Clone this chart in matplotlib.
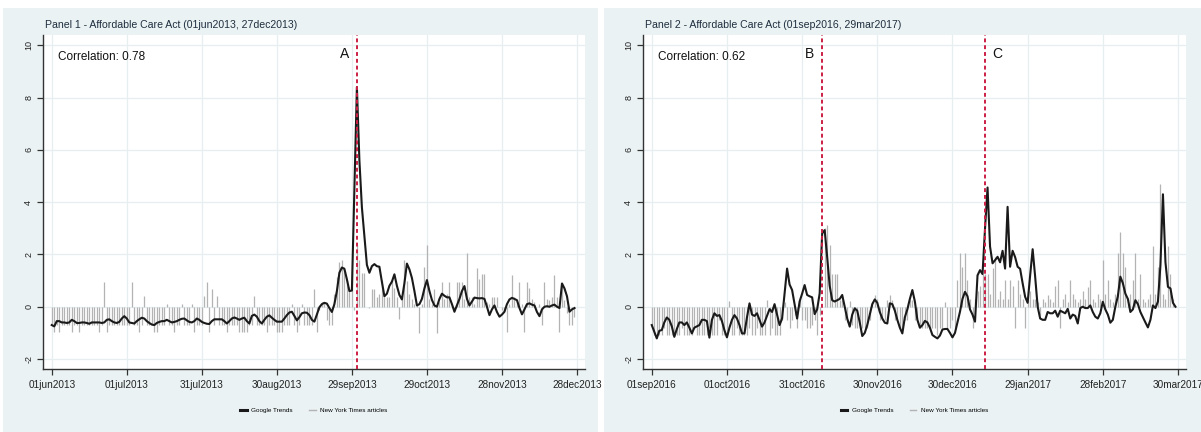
import numpy as np
import pandas as pd
import matplotlib
matplotlib.use("Agg")
import matplotlib.pyplot as plt
from matplotlib.patches import Rectangle
from matplotlib.lines import Line2D

plt.rcParams['font.family'] = ['Liberation Sans', 'DejaVu Sans']

# Panel 1: daily standardized series, 01jun2013 - 27dec2013
start1 = "2013-06-01"
google1 = [
    -0.70, -0.75, -0.55, -0.55, -0.60, -0.60, -0.62, -0.60, -0.50, -0.55,
    -0.62, -0.62, -0.60, -0.60, -0.62, -0.65, -0.60, -0.60, -0.60, -0.60,
    -0.62, -0.60, -0.50, -0.48, -0.55, -0.60, -0.62, -0.58, -0.45, -0.36,
    -0.45, -0.60, -0.62, -0.64, -0.55, -0.48, -0.42, -0.45, -0.55, -0.62,
    -0.68, -0.70, -0.62, -0.58, -0.55, -0.55, -0.50, -0.55, -0.60, -0.58,
    -0.55, -0.50, -0.46, -0.45, -0.52, -0.58, -0.60, -0.55, -0.45, -0.50,
    -0.58, -0.62, -0.65, -0.66, -0.55, -0.48, -0.48, -0.48, -0.48, -0.55,
    -0.64, -0.55, -0.45, -0.41, -0.45, -0.50, -0.45, -0.42, -0.55, -0.64,
    -0.35, -0.30, -0.38, -0.55, -0.64, -0.50, -0.38, -0.33, -0.42, -0.50,
    -0.57, -0.57, -0.57, -0.45, -0.32, -0.22, -0.19, -0.35, -0.52, -0.40,
    -0.25, -0.22, -0.23, -0.32, -0.50, -0.57, -0.30, -0.02, 0.10, 0.15,
    0.12, -0.05, -0.20, 0.10, 0.60, 1.30, 1.50, 1.45, 1.05, 0.60,
    0.62, 4.50, 8.40, 5.60, 3.80, 2.70, 1.60, 1.30, 1.55, 1.63,
    1.55, 1.53, 0.95, 0.40, 0.50, 0.80, 0.96, 1.24, 0.80, 0.45,
    0.28, 0.90, 1.65, 1.43, 1.10, 0.60, 0.05, 0.10, 0.30, 0.70,
    1.02, 0.60, 0.26, 0.05, 0.00, 0.30, 0.50, 0.42, 0.36, 0.36,
    0.10, -0.19, 0.05, 0.30, 0.60, 0.79, 0.30, 0.05, 0.20, 0.35,
    0.33, 0.32, 0.33, 0.30, 0.00, -0.32, -0.10, 0.05, -0.20, -0.38,
    -0.30, -0.19, 0.10, 0.28, 0.34, 0.30, 0.25, -0.05, -0.29, -0.10,
    0.10, 0.13, 0.08, 0.05, -0.20, -0.36, -0.10, 0.00, 0.02, 0.00,
    0.05, 0.08, 0.00, -0.05, 0.89, 0.70, 0.40, -0.19, -0.10, -0.05,
]
nyt1 = [
    -0.70, -0.96, -0.70, -0.96, -0.70, -0.70, -0.70, -0.70, -0.96, -0.70,
    -0.70, -0.96, -0.70, -0.70, -0.70, -0.70, -0.70, -0.70, -0.70, -0.96,
    -0.70, 0.96, -0.96, -0.70, -0.70, -0.70, -0.70, -0.70, -0.70, -0.70,
    -0.70, -0.70, 0.96, -0.70, -0.70, -0.96, -0.70, 0.41, -0.70, -0.70,
    -0.70, -0.96, -0.96, -0.70, -0.70, -0.70, 0.10, -0.70, -0.70, -0.96,
    -0.70, -0.70, 0.10, -0.70, -0.70, -0.70, 0.10, -0.96, -0.70, -0.70,
    -0.70, 0.40, 0.96, -0.96, 0.66, -0.70, 0.40, -0.70, -0.70, -0.70,
    -0.96, -0.70, -0.70, -0.70, -0.70, -0.96, -0.96, -0.96, -0.96, -0.70,
    -0.70, 0.40, -0.70, -0.70, -0.70, -0.70, -0.96, -0.70, -0.70, -0.70,
    -0.96, -0.96, -0.96, -0.70, -0.70, -0.70, 0.10, -0.70, -0.96, -0.70,
    0.10, -0.70, -0.70, -0.70, -0.70, 0.66, -0.96, -0.13, 0.19, 0.19,
    -0.50, -0.70, -0.70, 0.50, 1.15, 1.72, 1.79, 1.53, 1.02, 0.76,
    1.40, -0.13, 2.36, 1.79, 1.28, 1.28, 0.00, -0.05, 0.66, 0.66,
    0.38, 0.50, 1.02, 0.38, 0.38, 0.38, 1.02, 0.70, 0.38, -0.45,
    0.38, 1.78, 1.00, 0.50, 0.30, 0.10, 0.05, -1.00, 0.10, 1.53,
    2.36, 0.30, 0.10, 0.66, -1.00, 0.20, 0.96, 0.30, 0.50, 0.96,
    0.10, -0.20, 0.96, 0.96, 0.96, 0.30, 2.06, 0.38, 0.38, 0.10,
    1.50, 1.08, 1.24, 1.24, 0.20, 0.10, 0.38, 0.38, 0.38, 0.00,
    -0.13, -0.20, -0.96, 0.10, 1.21, 0.38, 0.20, 0.96, 0.10, -0.96,
    0.96, 0.70, 0.30, 0.20, 0.00, 0.10, -0.70, 0.96, 0.30, 0.25,
    0.38, 1.21, 0.38, -0.96, 0.90, 0.25, -0.25, -0.70, -0.70, -0.40,
]
events1 = [("A", "2013-10-01", "left")]
corr1 = 0.78
title1 = "Panel 1 - Affordable Care Act (01jun2013, 27dec2013)"

# Panel 2: daily standardized series, 01sep2016 - 29mar2017
start2 = "2016-09-01"
google2 = [
    -0.70, -0.95, -1.21, -0.92, -0.89, -0.60, -0.41, -0.50, -0.75, -1.15,
    -0.85, -0.60, -0.60, -0.70, -0.60, -0.80, -1.02, -0.80, -0.75, -0.70,
    -0.50, -0.50, -0.55, -1.18, -0.50, -0.25, -0.35, -0.32, -0.55, -0.90,
    -1.17, -0.80, -0.50, -0.32, -0.45, -0.70, -1.02, -1.02, -0.40, 0.13,
    -0.30, -0.35, -0.25, -0.50, -0.76, -0.60, -0.35, -0.09, -0.20, 0.10,
    -0.30, -0.70, -0.45, 0.50, 1.46, 0.85, 0.64, 0.10, -0.45, 0.20,
    0.50, 0.83, 0.45, 0.40, 0.36, -0.28, -0.10, 0.51, 2.80, 2.93,
    1.90, 0.80, 0.25, 0.20, 0.25, 0.30, 0.45, 0.00, -0.45, -0.76,
    -0.30, -0.06, -0.15, -0.60, -1.12, -1.00, -0.70, -0.30, 0.10, 0.28,
    0.15, -0.20, -0.45, -0.61, -0.64, 0.13, 0.10, -0.15, -0.50, -0.80,
    -1.02, -0.40, -0.10, 0.30, 0.64, 0.20, -0.50, -0.80, -0.70, -0.54,
    -0.60, -0.80, -1.08, -1.15, -1.21, -1.10, -0.87, -0.85, -0.85, -1.00,
    -1.17, -1.00, -0.60, -0.19, 0.30, 0.57, 0.40, -0.10, -0.30, -0.57,
    1.20, 1.40, 1.25, 3.00, 4.56, 2.30, 1.66, 1.78, 1.91, 1.70,
    2.14, 1.46, 3.82, 1.53, 2.14, 1.90, 1.53, 1.45, 0.90, 0.38,
    0.15, 1.20, 2.20, 1.15, 0.00, -0.45, -0.50, -0.50, -0.20, -0.25,
    -0.25, -0.15, -0.38, -0.15, -0.20, -0.25, -0.08, -0.45, -0.30, -0.35,
    -0.64, -0.05, 0.00, -0.05, -0.05, 0.05, -0.20, -0.38, -0.45, -0.25,
    0.19, -0.10, -0.30, -0.61, -0.50, 0.00, 0.40, 1.15, 0.90, 0.50,
    0.30, -0.20, -0.10, 0.25, 0.10, -0.20, -0.40, -0.60, -0.79, -0.50,
    0.05, -0.05, 0.20, 1.60, 4.30, 1.70, 0.76, 0.70, 0.15, 0.00,
]
nyt2 = [
    -0.70, -1.08, -1.08, -1.08, -1.08, -0.80, -1.08, -1.08, -1.08, -1.08,
    -1.08, -1.08, -0.80, -1.08, -1.08, -1.08, -1.08, -0.80, -1.08, -1.08,
    -1.08, -1.08, -1.08, -0.80, -1.08, -1.08, -1.08, -0.50, -1.08, -1.08,
    -1.08, 0.23, -1.08, -1.08, -0.80, -1.08, -1.08, -1.08, -1.08, -0.80,
    -1.08, -1.08, -0.80, -1.08, -1.08, -1.08, 0.25, -1.08, -0.80, -1.08,
    -1.08, -1.08, -0.50, 0.20, -0.50, -0.83, -0.50, -0.30, -0.83, 0.25,
    -0.50, -0.50, -0.80, -0.83, -0.70, -0.50, -1.08, -0.30, 0.00, 3.00,
    3.12, 2.36, 1.27, 1.27, 1.27, 0.25, 0.25, -0.50, -0.60, 0.23,
    -0.70, -0.83, -0.83, -0.83, -0.83, -0.83, -0.83, -0.50, 0.20, 0.45,
    0.30, -0.50, -0.50, -0.50, 0.25, 0.45, 0.25, -0.50, -0.50, -0.83,
    -0.83, -0.50, -0.50, 0.25, 0.25, -0.50, -0.50, -0.83, -0.83, -0.83,
    -0.83, -0.83, -0.83, -0.83, -1.08, -0.83, -0.83, 0.20, -0.83, -0.83,
    -0.50, -0.83, 1.02, 2.04, 1.53, 2.04, 1.02, 0.30, -0.83, 0.30,
    0.60, 0.80, 1.27, 1.27, 1.27, 0.50, 1.50, 1.91, 0.30, 0.60,
    0.30, 1.02, 0.30, 1.02, 0.80, -0.83, 1.02, 0.50, 0.30, -0.83,
    0.30, 0.60, 0.30, 0.30, 0.20, -0.30, 0.30, 0.20, 0.45, 0.30,
    0.20, 0.80, 1.02, -0.83, 0.30, 0.50, 0.20, 1.02, 0.50, 0.30,
    0.20, 0.30, 0.60, 0.30, 0.75, 1.02, 0.30, 0.20, 0.50, 0.30,
    1.78, 0.50, 1.02, 0.30, 0.20, 0.50, 2.04, 2.87, 2.04, 1.53,
    0.30, 0.50, 1.02, 2.04, 0.30, 1.27, 0.30, 0.20, 0.30, 0.50,
    2.33, 0.50, 1.53, 4.71, 0.50, 0.30, 2.33, 1.27, 0.30, 0.00,
]
events2 = [("B", "2016-11-08", "left"), ("C", "2017-01-12", "right")]
corr2 = 0.62
title2 = "Panel 2 - Affordable Care Act (01sep2016, 29mar2017)"

W, H = 1201, 432
bg = "#eaf2f3"
fig = plt.figure(figsize=(W / 100, H / 100), dpi=100)
fig.patch.set_facecolor("white")

# light graph-region boxes behind each panel
for x0, x1 in [(3, 598), (604, 1201)]:
    fig.patches.append(Rectangle((x0 / W, 0), (x1 - x0) / W, (H - 8) / H,
                                 transform=fig.transFigure, facecolor=bg,
                                 edgecolor="none", zorder=-5))


def draw_panel(left_px, right_px, start, google, nyt, events, corr, title):
    ax = fig.add_axes([left_px / W, (H - 369) / H,
                       (right_px - left_px) / W, (369 - 35) / H])
    ax.set_zorder(2)
    ax.set_facecolor("white")
    dates = pd.date_range(start, periods=len(google), freq="D")
    ax.vlines(dates, 0, nyt, color="#b3b3b3", lw=0.9, zorder=2)
    ax.plot(dates, google, color="#1a1a1a", lw=1.5, zorder=3)
    for lab, d, side in events:
        d = pd.Timestamp(d)
        ax.axvline(d, color="#cc1f45", lw=1.4, ls=(0, (2.0, 1.5)), zorder=4)
        off = -5 if side == "left" else 5
        ax.text(d + pd.Timedelta(days=off), 9.65, lab, fontsize=10,
                ha="center", va="center", color="#111111")

    t0 = pd.Timestamp(start)
    ax.set_xlim(t0 - pd.Timedelta(days=3.5), t0 + pd.Timedelta(days=213.2))
    ax.set_ylim(-2.38, 10.39)
    ticks = pd.date_range(start, periods=8, freq="30D")
    ax.set_xticks(ticks)
    ax.set_xticklabels([f"{t.day:02d}{t.strftime('%b').lower()}{t.year}"
                        for t in ticks], fontsize=7.2)
    ax.set_yticks([-2, 0, 2, 4, 6, 8, 10])
    ax.set_yticklabels(["-2", "0", "2", "4", "6", "8", "10"], fontsize=6.5,
                       rotation=90, va="center")
    ax.grid(True, color="#e6eef0", lw=0.9, zorder=0)
    ax.set_axisbelow(True)
    for s in ("top", "right"):
        ax.spines[s].set_visible(False)
    for s in ("left", "bottom"):
        ax.spines[s].set_color("#333333")
        ax.spines[s].set_linewidth(1.0)
    ax.tick_params(axis="both", colors="#333333", length=4, width=0.9,
                   labelcolor="#222222")
    ax.tick_params(axis="x", pad=4)
    ax.tick_params(axis="y", pad=3)

    ax.text(0.028, 0.934, f"Correlation: {corr:.2f}", transform=ax.transAxes,
            fontsize=8.5, va="center", ha="left", color="#111111")
    ax.text(0.003, 1.03, title, transform=ax.transAxes, fontsize=7.6,
            va="center", ha="left", color="#1f2f3f")

    handles = [Line2D([], [], color="#1a1a1a", lw=2.2),
               Line2D([], [], color="#b3b3b3", lw=1.0)]
    ax.legend(handles, ["Google Trends", "New York Times articles"],
              loc="center", bbox_to_anchor=(0.5, -0.125), ncol=2,
              frameon=False, fontsize=4.6, handlelength=1.0, columnspacing=2.6,
              handletextpad=0.7)
    return ax


draw_panel(43, 585, start1, google1, nyt1, events1, corr1, title1)
draw_panel(643, 1186, start2, google2, nyt2, events2, corr2, title2)

fig.savefig("out.png", dpi=100, facecolor=fig.get_facecolor())
